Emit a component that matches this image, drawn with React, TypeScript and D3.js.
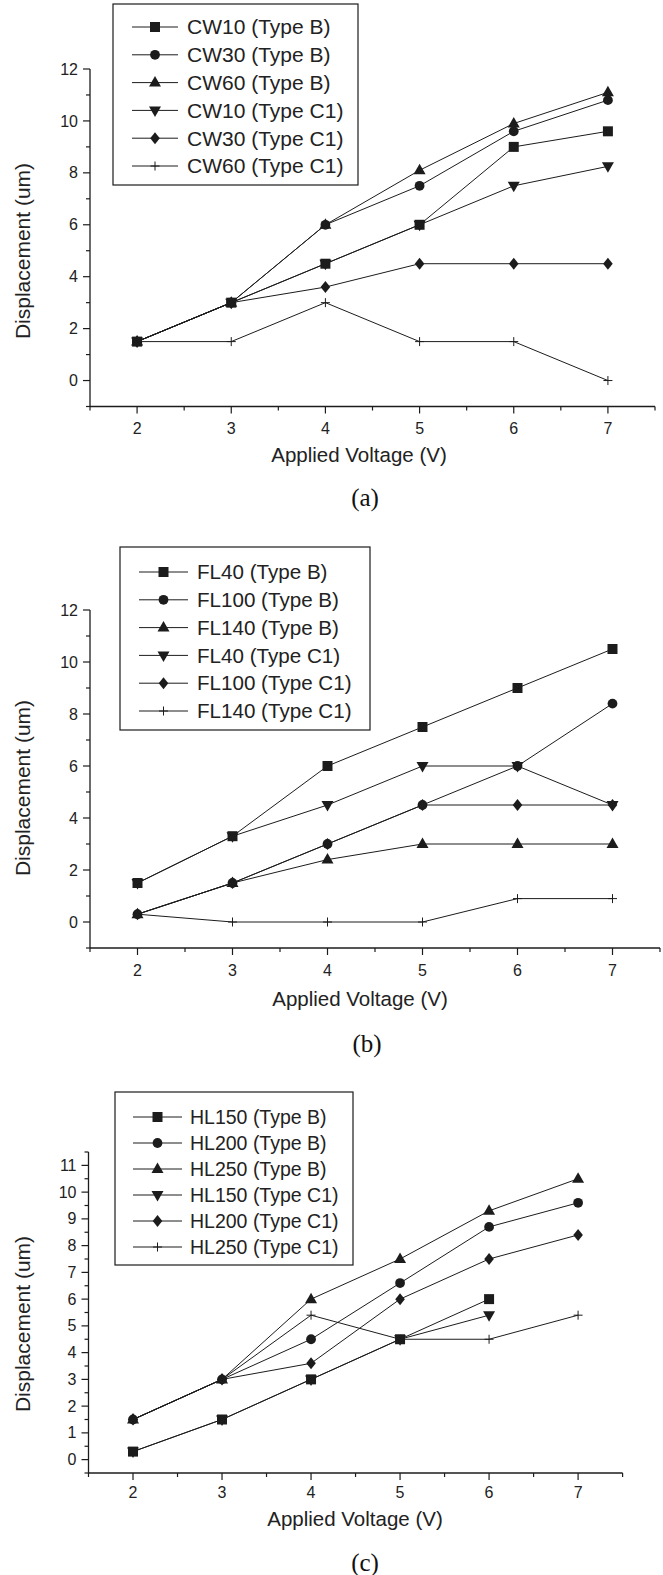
import React from 'react';
import * as d3 from 'd3';

// applied voltage (V) for every panel
const voltages = [2, 3, 4, 5, 6, 7];

// (a) CW series
const cwLabels = ['CW10 (Type B)', 'CW30 (Type B)', 'CW60 (Type B)', 'CW10 (Type C1)', 'CW30 (Type C1)', 'CW60 (Type C1)'];
const cw10B = [1.5, 3, 4.5, 6, 9, 9.6];
const cw30B = [1.5, 3, 6, 7.5, 9.6, 10.8];
const cw60B = [1.5, 3, 6, 8.1, 9.9, 11.1];
const cw10C1 = [1.5, 3, 4.5, 6, 7.5, 8.25];
const cw30C1 = [1.5, 3, 3.6, 4.5, 4.5, 4.5];
const cw60C1 = [1.5, 1.5, 3, 1.5, 1.5, 0];

// (b) FL series
const flLabels = ['FL40 (Type B)', 'FL100 (Type B)', 'FL140 (Type B)', 'FL40 (Type C1)', 'FL100 (Type C1)', 'FL140 (Type C1)'];
const fl40B = [1.5, 3.3, 6, 7.5, 9, 10.5];
const fl100B = [0.3, 1.5, 3, 4.5, 6, 8.4];
const fl140B = [0.3, 1.5, 2.4, 3, 3, 3];
const fl40C1 = [1.5, 3.3, 4.5, 6, 6, 4.5];
const fl100C1 = [0.3, 1.5, 3, 4.5, 4.5, 4.5];
const fl140C1 = [0.3, 0, 0, 0, 0.9, 0.9];

// (c) HL series (the HL150 runs stop at 6 V)
const hlLabels = ['HL150 (Type B)', 'HL200 (Type B)', 'HL250 (Type B)', 'HL150 (Type C1)', 'HL200 (Type C1)', 'HL250 (Type C1)'];
const hl150B = [0.3, 1.5, 3, 4.5, 6];
const hl200B = [1.5, 3, 4.5, 6.6, 8.7, 9.6];
const hl250B = [1.5, 3, 6, 7.5, 9.3, 10.5];
const hl150C1 = [0.3, 1.5, 3, 4.5, 5.4];
const hl200C1 = [1.5, 3, 3.6, 6, 7.5, 8.4];
const hl250C1 = [1.5, 3, 5.4, 4.5, 4.5, 5.4];

const markers = ['square', 'circle', 'triUp', 'triDown', 'diamond', 'plus'];

const xTitle = 'Applied Voltage (V)';
const yTitle = 'Displacement (um)';

const INK = '#1c1c1c';
const SANS = '"Liberation Sans", Arial, Helvetica, sans-serif';
const SERIF = '"Liberation Serif", "Times New Roman", serif';

const panels = [
  {
    tag: '(a)', labels: cwLabels, series: [cw10B, cw30B, cw60B, cw10C1, cw30C1, cw60C1],
    xRange: [90, 655], yDomain: [-1, 12], yRange: [406.5, 69], yMajor: 2, yMinor: 1,
    legend: { x: 113, y: 4, w: 245, h: 181, row0: 27, step: 27.8, l0: 132, l1: 178, tx: 187, fs: 21 },
    tickY: 428, titleX: 359, titleY: 455, tagX: 365, tagY: 497, yTitleY: 251,
  },
  {
    tag: '(b)', labels: flLabels, series: [fl40B, fl100B, fl140B, fl40C1, fl100C1, fl140C1],
    xRange: [90, 660], yDomain: [-1, 12], yRange: [948, 610], yMajor: 2, yMinor: 1,
    legend: { x: 120, y: 547, w: 250, h: 183, row0: 572, step: 27.8, l0: 139, l1: 188, tx: 197, fs: 20.6 },
    tickY: 970, titleX: 360, titleY: 999, tagX: 367, tagY: 1043, yTitleY: 788,
  },
  {
    tag: '(c)', labels: hlLabels, series: [hl150B, hl200B, hl250B, hl150C1, hl200C1, hl250C1],
    xRange: [88.5, 622.6], yDomain: [-0.5, 11.5], yRange: [1473, 1152], yMajor: 1, yMinor: 0.5,
    legend: { x: 115, y: 1092, w: 238, h: 173, row0: 1117, step: 26, l0: 133, l1: 182, tx: 190, fs: 19.5 },
    tickY: 1492, titleX: 355, titleY: 1519, tagX: 365, tagY: 1562, yTitleY: 1324,
  },
];

function Marker({ kind, x, y }: { kind: string; x: number; y: number }) {
  const t = `translate(${x},${y})`;
  if (kind === 'plus') {
    return <path transform={t} d="M-4.5,0H4.5M0,-4.5V4.5" stroke={INK} strokeWidth={1} fill="none" />;
  }
  let d = '';
  if (kind === 'square') d = 'M-5,-5h10v10h-10z';
  if (kind === 'circle') d = d3.symbol(d3.symbolCircle, 75)() || '';
  if (kind === 'triUp') d = 'M0,-6.5L6,4L-6,4Z';
  if (kind === 'triDown') d = 'M0,6.5L6,-4L-6,-4Z';
  if (kind === 'diamond') d = 'M0,-6L4.8,0L0,6L-4.8,0Z';
  return <path transform={t} d={d} fill={INK} />;
}

function Panel({ p }: { p: any }) {
  const x = d3.scaleLinear().domain([1.5, 7.5]).range(p.xRange);
  const y = d3.scaleLinear().domain(p.yDomain).range(p.yRange);
  const x0 = p.xRange[0];
  const yBase = p.yRange[0];

  const xTicks = d3.range(1.5, 7.5001, 0.5);
  const yTicks = d3.range(p.yDomain[0], p.yDomain[1] + 0.0001, p.yMinor);
  const isInt = (v: number) => Math.abs(v - Math.round(v)) < 1e-6;

  const line = d3.line<[number, number]>()
    .x(d => x(d[0]))
    .y(d => y(d[1]));

  const lg = p.legend;

  return (
    <g>
      {/* axes */}
      <line x1={x0} x2={p.xRange[1]} y1={yBase} y2={yBase} stroke={INK} strokeWidth={1.3} />
      <line x1={x0} x2={x0} y1={p.yRange[0]} y2={p.yRange[1]} stroke={INK} strokeWidth={1.3} />
      {xTicks.map(v => {
        const major = isInt(v);
        return (
          <g key={'xt' + v}>
            <line x1={x(v)} x2={x(v)} y1={yBase} y2={yBase + (major ? 7 : 4)} stroke={INK} strokeWidth={1.2} />
            {major && (
              <text x={x(v)} y={p.tickY} dy="0.35em" textAnchor="middle" fontSize={16} fill="#222" fontFamily={SANS}>{v}</text>
            )}
          </g>
        );
      })}
      {yTicks.map(v => {
        const major = isInt(v / p.yMajor) && v >= 0;
        return (
          <g key={'yt' + v}>
            <line x1={x0} x2={x0 - (major ? 7 : 4)} y1={y(v)} y2={y(v)} stroke={INK} strokeWidth={1.2} />
            {major && (
              <text x={x0 - 12} y={y(v)} dy="0.35em" textAnchor="end" fontSize={16} fill="#222" fontFamily={SANS}>{v}</text>
            )}
          </g>
        );
      })}

      {/* titles */}
      <text x={p.titleX} y={p.titleY} dy="0.35em" textAnchor="middle" fontSize={20.5} fill="#222" fontFamily={SANS}>{xTitle}</text>
      <text transform={`translate(23,${p.yTitleY}) rotate(-90)`} dy="0.35em" textAnchor="middle" fontSize={21} fill="#222" fontFamily={SANS}>{yTitle}</text>
      <text x={p.tagX} y={p.tagY} dy="0.35em" textAnchor="middle" fontSize={25} fill="#111" fontFamily={SERIF}>{p.tag}</text>

      {/* series */}
      {p.series.map((vals: number[], i: number) => {
        const pts: [number, number][] = vals.map((v, j) => [voltages[j], v]);
        return (
          <g key={'s' + i}>
            <path d={line(pts) || ''} fill="none" stroke={INK} strokeWidth={1} />
            {pts.map((d, j) => <Marker key={j} kind={markers[i]} x={x(d[0])} y={y(d[1])} />)}
          </g>
        );
      })}

      {/* legend */}
      <rect x={lg.x} y={lg.y} width={lg.w} height={lg.h} fill="#fff" stroke={INK} strokeWidth={1.2} />
      {p.labels.map((lab: string, i: number) => {
        const ry = lg.row0 + i * lg.step;
        return (
          <g key={'lg' + i}>
            <line x1={lg.l0} x2={lg.l1} y1={ry} y2={ry} stroke={INK} strokeWidth={1} />
            <Marker kind={markers[i]} x={(lg.l0 + lg.l1) / 2} y={ry} />
            <text x={lg.tx} y={ry} dy="0.35em" fontSize={lg.fs} fill="#222" fontFamily={SANS}>{lab}</text>
          </g>
        );
      })}
    </g>
  );
}

export default function App() {
  return (
    <div style={{ position: 'absolute', left: 0, top: 0, width: 663, height: 1575, background: '#fff' }}>
      <svg width={663} height={1575} style={{ display: 'block' }}>
        <rect width={663} height={1575} fill="#fff" />
        {panels.map(p => <Panel key={p.tag} p={p} />)}
      </svg>
    </div>
  );
}
